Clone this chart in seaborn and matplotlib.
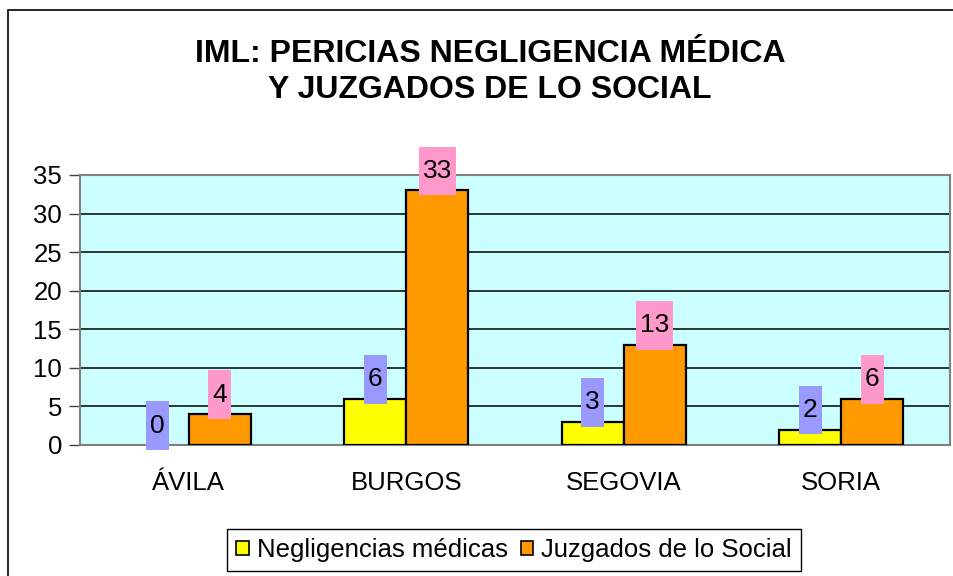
import matplotlib
matplotlib.use("Agg")
import matplotlib.pyplot as plt
import matplotlib.patches as mpatches
from matplotlib.path import Path
import seaborn as sns
import pandas as pd
import numpy as np

# ---- data ----
categories = ["ÁVILA", "BURGOS", "SEGOVIA", "SORIA"]
series_names = ["Negligencias médicas", "Juzgados de lo Social"]
negligencias = [0, 6, 3, 2]
juzgados = [4, 33, 13, 6]
y_ticks = [0, 5, 10, 15, 20, 25, 30, 35]
title_text = "IML: PERICIAS NEGLIGENCIA MÉDICA\nY JUZGADOS DE LO SOCIAL"

bar_colors = ["#FFFF00", "#FF9900"]
label_box_colors = ["#9999FF", "#FF99CC"]

df = pd.DataFrame({
    "Provincia": categories * 2,
    "Serie": [series_names[0]] * len(categories) + [series_names[1]] * len(categories),
    "Valor": negligencias + juzgados,
})

sns.set_style("white")
plt.rcParams["font.family"] = ["Liberation Sans", "DejaVu Sans"]
plt.rcParams["text.color"] = "black"
plt.rcParams["axes.labelcolor"] = "black"
plt.rcParams["xtick.color"] = "black"
plt.rcParams["ytick.color"] = "black"

fig = plt.figure(figsize=(9.54, 5.76), dpi=100)
ax = fig.add_axes([80 / 954, 1 - 445 / 576, 870 / 954, 270 / 576])
ax.set_facecolor("#CCFFFF")

sns.barplot(data=df, x="Provincia", y="Valor", hue="Serie", order=categories,
            hue_order=series_names, palette=bar_colors, width=0.57,
            edgecolor="black", linewidth=1.6, saturation=1, ax=ax, zorder=3)

handles, labels = ax.get_legend_handles_labels()
if ax.get_legend() is not None:
    ax.get_legend().remove()

ax.set_xlim(-0.5, len(categories) - 0.5)
ax.set_ylim(0, 35)
ax.set_yticks(y_ticks)
ax.set_xlabel("")
ax.set_ylabel("")
ax.set_axisbelow(True)
ax.yaxis.grid(True, color="black", linewidth=1.1, zorder=0.5)
ax.xaxis.grid(False)
for s in ax.spines.values():
    s.set_visible(True)
    s.set_color("#808080")
    s.set_linewidth(1.5)

ax.tick_params(axis="y", which="major", direction="out", length=8, width=1,
               color="#404040", labelcolor="black", labelsize=18.5, pad=5, left=True)
ax.tick_params(axis="x", which="major", length=0, labelsize=18.5, labelcolor="black",
               pad=19, bottom=True)
ax.set_xticks(np.arange(-0.5, len(categories), 1.0), minor=True)
ax.tick_params(axis="x", which="minor", direction="out", length=8, width=1, color="#404040")


# value label boxes: tall boxes with small horizontal padding
def make_box(hpad_px, half_h_px):
    def box(x0, y0, width, height, mutation_size):
        cx = x0 + width / 2
        cy = y0 + height / 2
        w2 = width / 2 + hpad_px
        verts = [(cx - w2, cy - half_h_px), (cx + w2, cy - half_h_px),
                 (cx + w2, cy + half_h_px), (cx - w2, cy + half_h_px),
                 (cx - w2, cy - half_h_px)]
        return Path(verts, closed=True)
    return box


values_by_series = [negligencias, juzgados]
for ci, cont in enumerate(ax.containers):
    for rect, v in zip(cont, values_by_series[ci]):
        if rect.get_height() == 0:
            rect.set_linewidth(0)
        xc = rect.get_x() + rect.get_width() / 2
        ax.annotate(str(v), xy=(xc, rect.get_height()), xytext=(0, 14),
                    textcoords="offset points", ha="center", va="center",
                    fontsize=19, color="black", zorder=5,
                    bbox=dict(boxstyle=make_box(4, 24.3), facecolor=label_box_colors[ci],
                              edgecolor="none"))

fig.text(490 / 954, 1 - 72 / 576, title_text, ha="center", va="center",
         fontsize=23, fontweight="bold", linespacing=1.3, color="black")

leg = fig.legend(handles, labels, loc="center", bbox_to_anchor=(514 / 954, 1 - 550 / 576),
                 ncol=2, fontsize=18.5, frameon=True, fancybox=False, edgecolor="black",
                 framealpha=1, handlelength=0.5, handleheight=0.5, handletextpad=0.3,
                 columnspacing=0.5, borderpad=0.35, borderaxespad=0)
leg.get_frame().set_linewidth(1.0)
for t in leg.get_texts():
    t.set_color("black")
for h in leg.legend_handles:
    h.set_edgecolor("black")
    h.set_linewidth(1.2)

# outer chart border (left/top visible, right/bottom cut off)
border = mpatches.Rectangle((8 / 954, -0.1), 1.2, 1 - 10 / 576 + 0.1,
                            transform=fig.transFigure, fill=False,
                            edgecolor="black", linewidth=1.2, clip_on=False)
fig.patches.append(border)

fig.savefig("out.png", dpi=100, facecolor="white")
